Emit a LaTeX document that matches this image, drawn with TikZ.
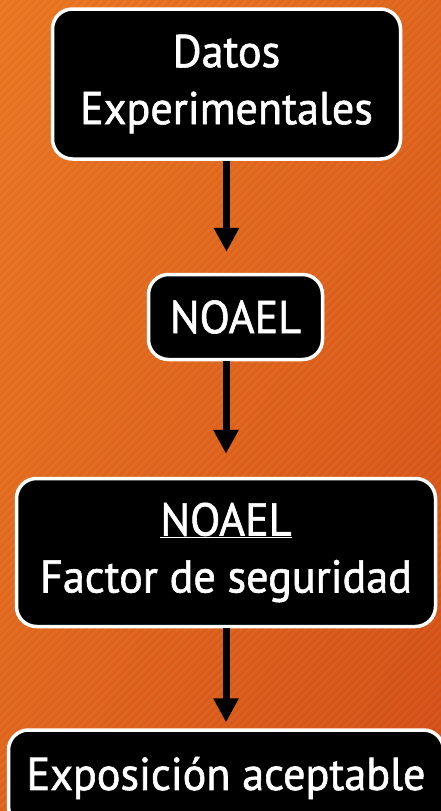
\documentclass[tikz,border=0pt]{standalone}
\usepackage{fontspec}
\setmainfont{PT Sans}[FakeStretch=0.96,FakeBold=1.3]
\usetikzlibrary{arrows.meta,shadings}

\definecolor{naranjaA}{HTML}{E8741F}
\definecolor{naranjaB}{HTML}{DE631A}
\definecolor{naranjaC}{HTML}{D24C14}

\tikzstyle{paso} = [draw=white, fill=black, line width=3.5pt, rectangle,
  rounded corners=20pt, text=white, align=center, inner sep=0pt,
  font=\fontsize{46}{57}\selectfont]
\tikzstyle{flecha} = [draw=black, line width=7pt,
  -{Triangle[width=24pt,length=24pt]}]

\begin{document}
\begin{tikzpicture}[x=1pt,y=-1pt]
        \useasboundingbox (0,0) rectangle (441,811);
        \clip (0,0) rectangle (441,811);
        \shade[upper left=naranjaA, upper right=naranjaB, lower left=naranjaB,
          lower right=naranjaC] (0,0) rectangle (441,811);
        \foreach \i in {-820,-812,...,440}
          \draw[white, opacity=0.05, line width=2.5pt] (\i,811) -- ++(811,-811);

        \node [paso] (datos)      at (226.5, 84)  [minimum width=348, minimum height=150]
          {Datos\\Experimentales};
        \node [paso] (noael)      at (235.5, 317) [minimum width=174, minimum height=85]
          {NOAEL};
        \node [paso] (cociente)   at (226, 552.5) [minimum width=419, minimum height=148]
          {\underline{NOAEL}\\Factor de seguridad};
        \node [paso] (exposicion) at (226, 778)   [minimum width=435, minimum height=96]
          {Exposición aceptable};

        \draw[flecha, shorten >=21pt] (datos.south) -- (datos.south |- noael.north);
        \draw[flecha, shorten >=23pt] (noael.south -| cociente.north) -- (cociente.north);
        \draw[flecha, shorten >=6pt] (cociente.south) -- (exposicion.north);
      \end{tikzpicture}
\end{document}
